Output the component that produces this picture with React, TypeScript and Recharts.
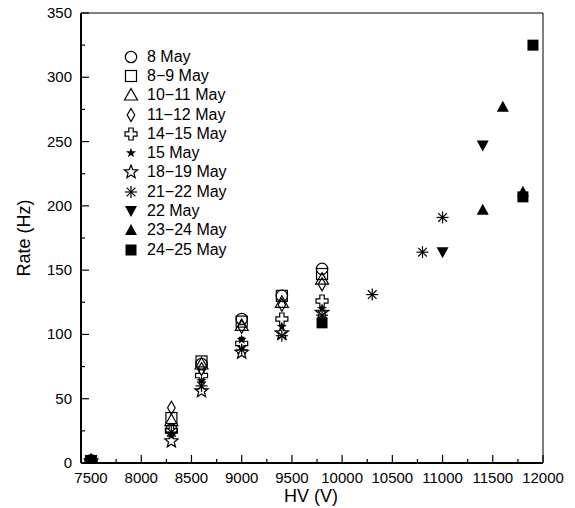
import { ScatterChart, Scatter, XAxis, YAxis, ReferenceArea, Legend } from 'recharts'

// HV (V) and rate (Hz) read per run
const hv8May = [7500, 8300, 8600, 9000, 9400, 9800]
const rate8May = [1.5, 26, 77, 112, 130, 151]
const hv8to9May = [7500, 8300, 8600, 9000, 9400, 9800]
const rate8to9May = [1.5, 35, 79, 110, 130, 147]
const hv10to11May = [7500, 8300, 8600, 9000, 9400, 9800]
const rate10to11May = [1.5, 33, 77, 107, 125, 143]
const hv11to12May = [8300, 8600, 9000, 9400, 9800]
const rate11to12May = [43, 73, 106, 123, 139]
const hv14to15May = [7500, 8300, 8600, 9000, 9400, 9800]
const rate14to15May = [1.5, 25, 68, 93, 112, 126]
const hv15May = [7500, 8300, 8600, 9000, 9400, 9800]
const rate15May = [1.5, 23, 64, 96, 106, 120]
const hv18to19May = [7500, 8300, 8600, 9000, 9400, 9800]
const rate18to19May = [1.5, 17, 56, 86, 101, 117]
const hv21to22May = [8300, 8600, 9000, 9400, 9800, 10300, 10800, 11000]
const rate21to22May = [24, 60, 88, 99, 115, 131, 164, 191]
const hv22May = [11000, 11400]
const rate22May = [164, 247]
const hv23to24May = [11400, 11600, 11800]
const rate23to24May = [197, 277, 211]
const hv24to25May = [7500, 9800, 11800, 11900]
const rate24to25May = [1.5, 109, 207, 325]

const xTicks = [7500, 7750, 8000, 8250, 8500, 8750, 9000, 9250, 9500, 9750, 10000, 10250, 10500, 10750, 11000, 11250, 11500, 11750, 12000]
const yTicks = [0, 25, 50, 75, 100, 125, 150, 175, 200, 225, 250, 275, 300, 325, 350]

const FONT = '"Liberation Sans", Arial, Helvetica, sans-serif'
const INK = '#000'

type Mark = 'circle' | 'square' | 'triangle' | 'diamond' | 'plus' | 'starSmall' | 'starOpen' | 'asterisk' | 'triDownFilled' | 'triUpFilled' | 'squareFilled'

function starPoints(cx: number, cy: number, ro: number, ri: number) {
    const pts: string[] = []
    for (let i = 0; i < 10; i++) {
        const r = i % 2 === 0 ? ro : ri
        const a = -Math.PI / 2 + (i * Math.PI) / 5
        pts.push(`${cx + r * Math.cos(a)},${cy + r * Math.sin(a)}`)
    }
    return pts.join(' ')
}

function drawMark(kind: Mark, cx: number, cy: number) {
    const sw = 1.2
    switch (kind) {
        case 'circle':
            return <circle cx={cx} cy={cy} r={5.7} fill="none" stroke={INK} strokeWidth={sw} />
        case 'square':
            return <rect x={cx - 5.5} y={cy - 5.5} width={11} height={11} fill="none" stroke={INK} strokeWidth={sw} />
        case 'triangle':
            return <polygon points={`${cx},${cy - 6.5} ${cx + 6.5},${cy + 5} ${cx - 6.5},${cy + 5}`} fill="none" stroke={INK} strokeWidth={sw} />
        case 'diamond':
            return <polygon points={`${cx},${cy - 6.5} ${cx + 3.8},${cy} ${cx},${cy + 6.5} ${cx - 3.8},${cy}`} fill="none" stroke={INK} strokeWidth={sw} />
        case 'plus': {
            const a = 2.2, b = 6
            const p = [
                [-a, -b], [a, -b], [a, -a], [b, -a], [b, a], [a, a], [a, b], [-a, b], [-a, a], [-b, a], [-b, -a], [-a, -a],
            ].map(([dx, dy]) => `${cx + dx},${cy + dy}`).join(' ')
            return <polygon points={p} fill="none" stroke={INK} strokeWidth={sw} />
        }
        case 'starSmall':
            return <polygon points={starPoints(cx, cy, 5.3, 2.1)} fill={INK} stroke="none" />
        case 'starOpen':
            return <polygon points={starPoints(cx, cy, 7, 3)} fill="none" stroke={INK} strokeWidth={sw} />
        case 'asterisk': {
            const r = 6, d = r * 0.72
            return (
                <g stroke={INK} strokeWidth={sw}>
                    <line x1={cx - r} y1={cy} x2={cx + r} y2={cy} />
                    <line x1={cx} y1={cy - r} x2={cx} y2={cy + r} />
                    <line x1={cx - d} y1={cy - d} x2={cx + d} y2={cy + d} />
                    <line x1={cx - d} y1={cy + d} x2={cx + d} y2={cy - d} />
                </g>
            )
        }
        case 'triDownFilled':
            return <polygon points={`${cx - 6},${cy - 5} ${cx + 6},${cy - 5} ${cx},${cy + 6}`} fill={INK} />
        case 'triUpFilled':
            return <polygon points={`${cx},${cy - 6} ${cx + 6},${cy + 5} ${cx - 6},${cy + 5}`} fill={INK} />
        case 'squareFilled':
            return <rect x={cx - 5.5} y={cy - 5.5} width={11} height={11} fill={INK} />
    }
}

const series: { name: string; hv: number[]; rate: number[]; mark: Mark }[] = [
    { name: '8 May', hv: hv8May, rate: rate8May, mark: 'circle' },
    { name: '8\u22129 May', hv: hv8to9May, rate: rate8to9May, mark: 'square' },
    { name: '10\u221211 May', hv: hv10to11May, rate: rate10to11May, mark: 'triangle' },
    { name: '11\u221212 May', hv: hv11to12May, rate: rate11to12May, mark: 'diamond' },
    { name: '14\u221215 May', hv: hv14to15May, rate: rate14to15May, mark: 'plus' },
    { name: '15 May', hv: hv15May, rate: rate15May, mark: 'starSmall' },
    { name: '18\u221219 May', hv: hv18to19May, rate: rate18to19May, mark: 'starOpen' },
    { name: '21\u221222 May', hv: hv21to22May, rate: rate21to22May, mark: 'asterisk' },
    { name: '22 May', hv: hv22May, rate: rate22May, mark: 'triDownFilled' },
    { name: '23\u221224 May', hv: hv23to24May, rate: rate23to24May, mark: 'triUpFilled' },
    { name: '24\u221225 May', hv: hv24to25May, rate: rate24to25May, mark: 'squareFilled' },
]

const XTick = (props: any) => {
    const { x, y, payload } = props
    const major = payload.value % 500 === 0
    return (
        <g>
            <line x1={x} x2={x} y1={y} y2={y - (major ? 8 : 4)} stroke={INK} strokeWidth={1.2} />
            {major && (
                <text x={x} y={y + 20} textAnchor="middle" fontSize={15} fontFamily={FONT} fill={INK}>
                    {payload.value}
                </text>
            )}
        </g>
    )
}

const YTick = (props: any) => {
    const { x, y, payload } = props
    const major = payload.value % 50 === 0
    return (
        <g>
            <line x1={x} x2={x + (major ? 8 : 4)} y1={y} y2={y} stroke={INK} strokeWidth={1.2} />
            {major && (
                <text x={x - 9} y={y + 5} textAnchor="end" fontSize={15} fontFamily={FONT} fill={INK}>
                    {payload.value}
                </text>
            )}
        </g>
    )
}

const LegendBox = () => (
    <div style={{ fontFamily: FONT, fontSize: 16, color: INK }}>
        {series.map((s) => (
            <div key={s.name} style={{ display: 'flex', alignItems: 'center', height: 19.3 }}>
                <svg width={18} height={16} style={{ marginRight: 7 }}>
                    {drawMark(s.mark, 9, 8)}
                </svg>
                <span style={{ whiteSpace: 'nowrap' }}>{s.name}</span>
            </div>
        ))}
    </div>
)

export default function App() {
    return (
        <div style={{ position: 'absolute', left: 0, top: 0, background: '#fff' }}>
            <ScatterChart width={575} height={508} margin={{ top: 13, right: 32, bottom: 0, left: 0 }}>
                <ReferenceArea x1={7400} x2={12000} y1={0} y2={350} fill="none" stroke={INK} strokeWidth={1} ifOverflow="visible" />
                <XAxis
                    type="number"
                    dataKey="hv"
                    domain={[7400, 12000]}
                    ticks={xTicks}
                    interval={0}
                    height={45}
                    tickSize={0}
                    tickMargin={0}
                    tick={<XTick />}
                    axisLine={{ stroke: INK, strokeWidth: 2 }}
                    tickLine={false}
                    allowDataOverflow
                    label={{
                        content: () => (
                            <text x={311} y={502} textAnchor="middle" fontSize={18} fontFamily={FONT} fill={INK}>
                                HV (V)
                            </text>
                        ),
                    }}
                />
                <YAxis
                    type="number"
                    dataKey="rate"
                    domain={[0, 350]}
                    ticks={yTicks}
                    interval={0}
                    width={81}
                    tickSize={0}
                    tickMargin={0}
                    tick={<YTick />}
                    axisLine={{ stroke: INK, strokeWidth: 2 }}
                    tickLine={false}
                    allowDataOverflow
                    label={{
                        content: () => (
                            <text x={30} y={238} transform="rotate(-90 30 238)" textAnchor="middle" fontSize={18} fontFamily={FONT} fill={INK}>
                                Rate (Hz)
                            </text>
                        ),
                    }}
                />
                {series.map((s) => (
                    <Scatter
                        key={s.name}
                        name={s.name}
                        data={s.hv.map((hv, i) => ({ hv, rate: s.rate[i] }))}
                        isAnimationActive={false}
                        shape={(p: any) => drawMark(s.mark, p.cx, p.cy) as any}
                    />
                ))}
                <Legend
                    layout="vertical"
                    align="center"
                    verticalAlign="middle"
                    content={<LegendBox />}
                    wrapperStyle={{ left: 122, top: 47, width: 'auto', height: 'auto' }}
                />
            </ScatterChart>
        </div>
    )
}
